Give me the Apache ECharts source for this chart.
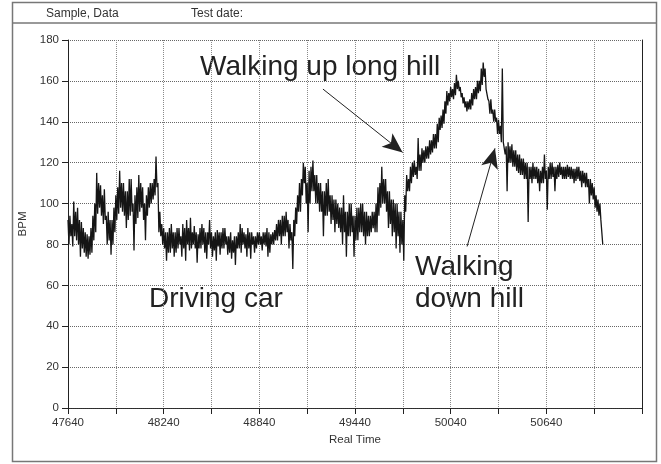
<!DOCTYPE html>
<html>
<head>
<meta charset="utf-8">
<script src="https://cdn.jsdelivr.net/npm/echarts@6/dist/echarts.min.js"></script>
<style>
  html, body { margin: 0; padding: 0; background: #fff; }
  #chart { width: 661px; height: 464px; }
</style>
</head>
<body>
<div id="chart"></div>
<script>
// the trace is read in 12 s bins starting at 47640: the top and the bottom
// of the black band in each bin (top reading at t, bottom reading at t + 6)
var startTime = 47640;
var step = 12;

var drivingHigh = [
  92, 94, 90, 101, 96, 98, 92, 91, 88, 86, 85, 84, 88, 94, 100, 115, 110, 109, 104, 107,
  94, 96, 92, 92, 98, 104, 108, 116, 110, 110, 106, 106, 112, 112, 100, 104, 108, 114, 110, 108,
  100, 104, 108, 110, 110, 112, 123, 110, 96, 90, 88, 86, 86, 88, 90, 86, 86, 88, 88, 84,
  90, 88, 92, 88, 93, 86, 89, 86, 85, 88, 90, 88, 86, 86, 92, 86, 84, 86, 87, 86,
  86, 88, 88, 84, 84, 86, 82, 84, 84, 86, 90, 88, 86, 85, 88, 86, 86, 84, 84, 86,
  86, 84, 86, 86, 88, 86, 85, 86, 87, 90, 92, 92, 94, 94, 96, 92, 90, 86, 92, 98,
  104, 110, 112, 120, 118, 110, 116, 118, 121, 114, 114, 110, 110, 106, 106, 110, 112, 104, 104, 102,
  102, 100, 98, 98, 104, 96, 96, 100, 100, 94, 94, 98, 98, 100, 100, 96, 96, 94, 94, 96,
  96, 100, 108, 110, 118, 112, 112, 106, 106, 102, 102, 100, 100, 96, 96, 92
];
var drivingLow = [
  80, 84, 79, 84, 82, 80, 74, 78, 76, 74, 73, 75, 76, 82, 86, 95, 98, 94, 90, 92,
  80, 82, 75, 80, 86, 92, 95, 98, 96, 94, 88, 92, 94, 96, 77, 90, 93, 96, 98, 92,
  82, 94, 98, 100, 102, 104, 108, 86, 84, 80, 78, 72, 76, 76, 78, 74, 76, 78, 80, 74,
  78, 72, 80, 77, 78, 80, 78, 71, 78, 78, 80, 76, 73, 80, 78, 74, 77, 72, 79, 75,
  78, 78, 80, 75, 76, 73, 76, 70, 78, 78, 76, 80, 78, 74, 78, 73, 80, 76, 78, 80,
  80, 77, 80, 79, 74, 76, 80, 80, 82, 82, 84, 80, 84, 84, 86, 78, 82, 68, 84, 90,
  96, 96, 104, 110, 100, 86, 100, 106, 106, 100, 100, 96, 96, 84, 94, 94, 96, 90, 92, 86,
  90, 88, 86, 80, 86, 74, 84, 84, 86, 74, 82, 82, 86, 86, 84, 80, 84, 84, 86, 88,
  86, 86, 94, 98, 100, 100, 96, 88, 90, 84, 86, 78, 84, 76, 80, 72
];
var walkUpHigh = [
  104, 114, 112, 118,
  120, 121, 118, 132, 124, 127, 126, 128, 128, 131, 131, 134, 134, 139, 142, 143, 146, 150, 155, 154,
  157, 156, 159, 163, 160, 157, 154, 152, 150, 150, 151, 154, 156, 157, 160, 160, 166, 169
];
var walkUpLow = [
  96, 106, 106, 110,
  113, 114, 112, 116, 116, 120, 120, 122, 122, 124, 125, 127, 127, 130, 136, 137, 139, 144, 148, 150,
  152, 151, 153, 156, 155, 152, 149, 147, 145, 146, 146, 148, 151, 151, 154, 155, 158, 162
];
var walkDownHigh = [
  166, 156,
  150, 151, 146, 146, 142, 141, 138, 166, 130, 128, 130, 128, 129, 126, 126, 124, 124, 122, 122, 120,
  120, 118, 118, 120, 118, 118, 117, 116, 118, 124, 116, 118, 120, 120, 118, 118, 119, 120, 118, 118,
  118, 119, 118, 118, 117, 117, 118, 118, 116, 116, 115, 115, 112, 112, 110, 108, 104, 102, 100, 92
];
var walkDownLow = [
  156, 151,
  144, 144, 140, 140, 134, 134, 130, 130, 124, 106, 120, 120, 118, 118, 116, 115, 114, 114, 112, 112,
  91, 112, 110, 112, 112, 110, 106, 110, 110, 112, 97, 112, 112, 113, 106, 112, 113, 114, 112, 112,
  112, 113, 112, 112, 110, 111, 112, 111, 108, 110, 108, 108, 100, 104, 102, 98, 96, 94, 92, 80
];

// axis ticks
var xMin = 47640, xMax = 51240, xInterval = 300, xLabelEvery = 600;
var yMin = 0, yMax = 180, yInterval = 20;

// arrows: [from, to] in [time, bpm]
var arrowUp = [[49239, 156], [49739, 125]];
var arrowDown = [[50143, 79], [50318, 127]];

var high = drivingHigh.concat(walkUpHigh, walkDownHigh);
var low = drivingLow.concat(walkUpLow, walkDownLow);
var points = [];
for (var i = 0; i < high.length; i++) {
  var t = startTime + i * step;
  points.push([t, high[i]]);
  points.push([t + step / 2, low[i]]);
}

var font = "'Liberation Sans', Arial, Helvetica, sans-serif";
var chart = echarts.init(document.getElementById('chart'));

var option = {
  animation: false,
  backgroundColor: '#fff',
  textStyle: { fontFamily: font },
  grid: { left: 68, right: 19, top: 40, bottom: 56 },
  xAxis: [
    {
      type: 'value',
      min: xMin, max: xMax, interval: xInterval,
      name: 'Real Time', nameLocation: 'middle', nameGap: 24,
      nameTextStyle: { fontSize: 11.5, color: '#333', fontFamily: font },
      axisLine: { show: true, onZero: false, lineStyle: { color: '#222', width: 1 } },
      axisTick: { show: true, length: 6, lineStyle: { color: '#222' } },
      axisLabel: {
        fontSize: 11.5, color: '#333', margin: 9, fontFamily: font,
        formatter: function (v) {
          if (v === xMax || (v - xMin) % xLabelEvery !== 0) return '';
          return String(v);
        }
      },
      splitLine: { show: true, lineStyle: { type: 'dotted', color: '#8a8a8a' } }
    },
    {
      type: 'value', position: 'top',
      min: xMin, max: xMax, interval: xInterval,
      axisLine: { show: true, lineStyle: { color: '#333', type: 'dotted' } },
      axisTick: { show: false }, axisLabel: { show: false }, splitLine: { show: false }
    }
  ],
  yAxis: [
    {
      type: 'value',
      min: yMin, max: yMax, interval: yInterval,
      name: 'BPM', nameLocation: 'middle', nameGap: 25,
      nameTextStyle: { fontSize: 11.5, color: '#333', fontFamily: font },
      axisLine: { show: true, lineStyle: { color: '#222', width: 1 } },
      axisTick: { show: true, length: 6, lineStyle: { color: '#222' } },
      axisLabel: { fontSize: 11.5, color: '#333', margin: 9, fontFamily: font },
      splitLine: { show: true, lineStyle: { type: 'dotted', color: '#666' } }
    },
    {
      type: 'value', position: 'right',
      min: yMin, max: yMax, interval: yInterval,
      axisLine: { show: true, lineStyle: { color: '#222' } },
      axisTick: { show: false }, axisLabel: { show: false }, splitLine: { show: false }
    }
  ],
  series: [
    {
      type: 'line',
      data: points,
      showSymbol: false,
      sampling: 'none',
      lineStyle: { color: '#151515', width: 1.3 },
      silent: true,
      markLine: {
        silent: true,
        symbol: ['none', 'arrow'],
        symbolSize: [13, 20],
        label: { show: false },
        lineStyle: { color: '#222', width: 1, type: 'solid' },
        data: [
          [{ coord: arrowUp[0] }, { coord: arrowUp[1] }],
          [{ coord: arrowDown[0] }, { coord: arrowDown[1] }]
        ]
      }
    }
  ],
  graphic: [
    // outer frame and header strip
    { type: 'rect', shape: { x: 12.5, y: 2.5, width: 644, height: 459 },
      style: { fill: 'none', stroke: '#777', lineWidth: 1.5 }, silent: true },
    { type: 'line', shape: { x1: 12.5, y1: 23, x2: 656.5, y2: 23 },
      style: { stroke: '#777', lineWidth: 1.5 }, silent: true },
    { type: 'text', x: 46, y: 14, style: { text: 'Sample, Data', fill: '#333',
      font: '12px ' + font, verticalAlign: 'middle' } },
    { type: 'text', x: 191, y: 14, style: { text: 'Test date:', fill: '#333',
      font: '12px ' + font, verticalAlign: 'middle' } },
    // annotations
    { type: 'text', x: 200, y: 67.5, style: { text: 'Walking up long hill', font: '28px ' + font,
      fill: '#222', verticalAlign: 'middle' } },
    { type: 'text', x: 149, y: 299.5, style: { text: 'Driving car', font: '28px ' + font,
      fill: '#222', verticalAlign: 'middle' } },
    { type: 'text', x: 415, y: 267.5, style: { text: 'Walking', font: '28px ' + font,
      fill: '#222', verticalAlign: 'middle' } },
    { type: 'text', x: 415, y: 299.5, style: { text: 'down hill', font: '28px ' + font,
      fill: '#222', verticalAlign: 'middle' } }
  ]
};
chart.setOption(option);
</script>
</body>
</html>
